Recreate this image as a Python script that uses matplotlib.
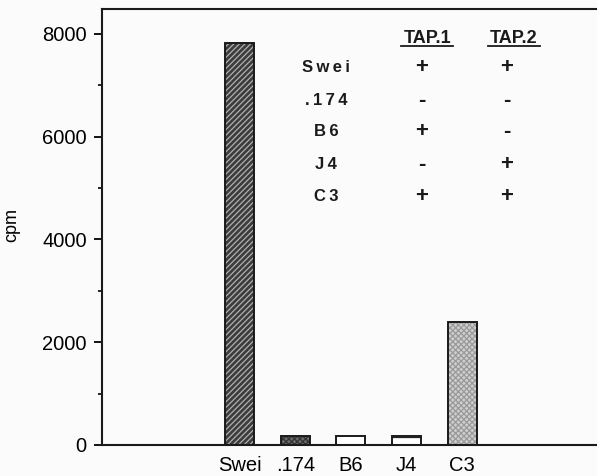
import matplotlib
matplotlib.use("Agg")
import matplotlib.pyplot as plt
from matplotlib.ticker import MultipleLocator

# data
strains = ["Swei", ".174", "B6", "J4", "C3"]
cpm = [7820, 180, 180, 175, 2400]

table_rows = ["Swei", ".174", "B6", "J4", "C3"]
tap1 = ["+", "-", "+", "-", "+"]
tap2 = ["+", "-", "-", "+", "+"]
table_heads = ["TAP.1", "TAP.2"]

# bar styles: (face, hatch, hatch colour)
styles = [
    ("#3c3c3c", "//////", "#b0b0b0"),
    ("#6a6a6a", "xxxxxx", "#333333"),
    ("white", "", "black"),
    ("white", "--", "#222222"),
    ("#cfcfcf", "xxxxxx", "#999999"),
]

plt.rcParams["font.family"] = ["Liberation Sans", "DejaVu Sans"]
plt.rcParams["hatch.linewidth"] = 0.9

fig = plt.figure(figsize=(5.97, 4.76), dpi=100)
fig.patch.set_facecolor("#fbfbfb")
ax = fig.add_axes([102 / 597, 31 / 476, 495 / 597, 436 / 476])
ax.set_facecolor("#fbfbfb")

x = list(range(len(strains)))
for i in x:
    face, hatch, hcol = styles[i]
    # hatch layer then black outline on top
    ax.bar(x[i], cpm[i], width=0.52, color=face, hatch=hatch,
           edgecolor=hcol, linewidth=0)
    ax.bar(x[i], cpm[i], width=0.52, fill=False, edgecolor="#1a1a1a",
           linewidth=1.4)

ax.set_xlim(-2.47, 6.42)
ax.set_ylim(0, 8480)

ax.set_xticks(x)
ax.set_xticklabels(strains, fontsize=14.5)
ax.tick_params(axis="x", length=0, pad=8)

ax.yaxis.set_major_locator(MultipleLocator(2000))
ax.yaxis.set_minor_locator(MultipleLocator(1000))
ax.tick_params(axis="y", which="major", direction="out", length=6,
               width=1.3, labelsize=14.5, pad=5)
ax.tick_params(axis="y", which="minor", direction="out", length=3, width=1.2)
ax.set_ylabel("cpm", fontsize=13)
ax.yaxis.set_label_coords(-0.165, 0.505)

for side in ["left", "top", "bottom"]:
    ax.spines[side].set_linewidth(1.5)
    ax.spines[side].set_color("#1a1a1a")
ax.spines["right"].set_visible(False)

# inset table of TAP genotypes
row_y = [0.865, 0.791, 0.720, 0.644, 0.569]
for j, lab in enumerate(table_rows):
    ax.text(0.4525, row_y[j], "\u2009".join(lab), transform=ax.transAxes,
            ha="center", va="center", fontsize=12, fontweight="bold",
            color="#1a1a1a")
    ax.text(0.646, row_y[j], tap1[j], transform=ax.transAxes, ha="center",
            va="center", fontsize=16, fontweight="bold", color="#1a1a1a")
    ax.text(0.818, row_y[j], tap2[j], transform=ax.transAxes, ha="center",
            va="center", fontsize=16, fontweight="bold", color="#1a1a1a")

head_x = [0.657, 0.832]
for k, h in enumerate(table_heads):
    ax.text(head_x[k], 0.922, h, transform=ax.transAxes, ha="center",
            va="baseline", fontsize=13, fontweight="bold", color="#1a1a1a")
    ax.plot([head_x[k] - 0.053, head_x[k] + 0.053], [0.914, 0.914],
            transform=ax.transAxes, color="#1a1a1a", lw=1.3, clip_on=False)

fig.savefig("out.png", dpi=100, facecolor=fig.get_facecolor())
